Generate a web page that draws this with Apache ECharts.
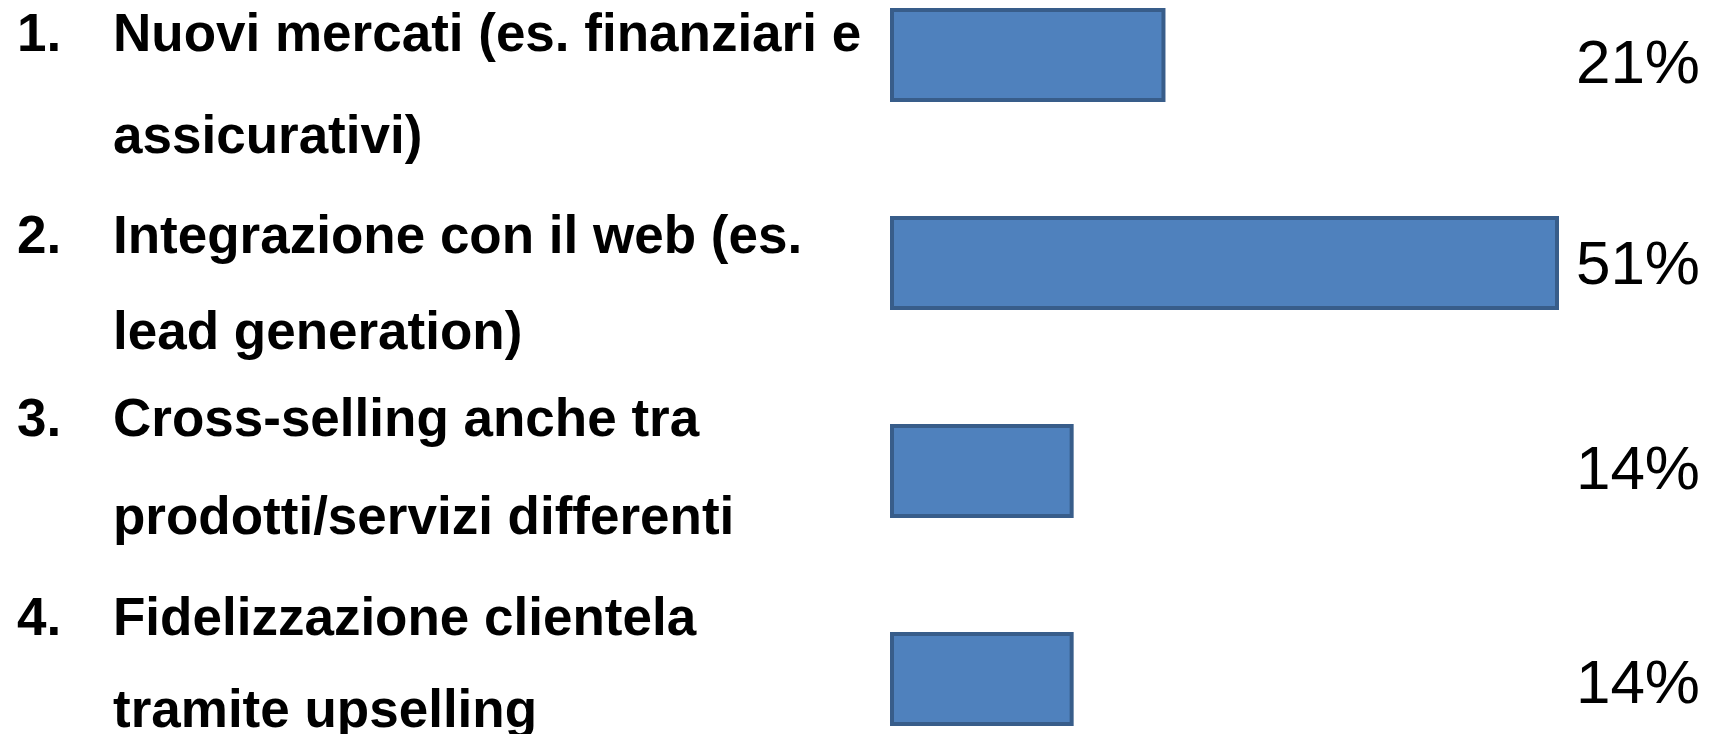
<!DOCTYPE html>
<html>
<head>
<meta charset="utf-8">
<script src="https://cdn.jsdelivr.net/npm/echarts@6/dist/echarts.min.js"></script>
<style>
  html, body { margin: 0; padding: 0; background: #ffffff; }
  #chart { width: 1710px; height: 734px; }
</style>
</head>
<body>
<div id="chart"></div>
<script>
// dati
const numbers = ['1.', '2.', '3.', '4.']
const labelLines = [
  ['Nuovi mercati (es. finanziari e', 'assicurativi)'],
  ['Integrazione con il web (es.', 'lead generation)'],
  ['Cross-selling anche tra', 'prodotti/servizi differenti'],
  ['Fidelizzazione clientela', 'tramite upselling']
]
const values = [21, 51, 14, 14]
const percentLabels = values.map(v => v + '%')

// posizione verticale (baseline) delle righe di testo a sinistra
const lineBaselines = [[47, 149], [249, 345], [432, 530], [631, 723]]
// spostamento verticale delle percentuali a destra
const pctShift = [22, 8, 2, 14]

const myChart = echarts.init(document.getElementById('chart'))

const graphic = []
labelLines.forEach((lines, i) => {
  graphic.push({
    type: 'text',
    left: 17,
    top: lineBaselines[i][0] - 37,
    style: {
      text: numbers[i],
      font: 'bold 53px "Liberation Sans", Arial, sans-serif',
      fill: '#000'
    }
  })
  lines.forEach((line, j) => {
    graphic.push({
      type: 'text',
      left: 113,
      top: lineBaselines[i][j] - 37,
      style: {
        text: line,
        font: 'bold 53px "Liberation Sans", Arial, sans-serif',
        fill: '#000'
      }
    })
  })
})

const pctRich = {}
pctShift.forEach((s, i) => {
  pctRich['p' + i] = {
    fontSize: 62,
    fontFamily: '"Liberation Sans", Arial, sans-serif',
    color: '#000',
    padding: [s, 0, 0, 0]
  }
})

const options = {
  animation: false,
  grid: {
    left: 890,
    right: 151,
    top: -49,
    bottom: -49,
    containLabel: false,
    outerBoundsMode: 'none'
  },
  xAxis: {
    type: 'value',
    min: 0,
    max: 51,
    show: false
  },
  yAxis: [
    {
      type: 'category',
      data: numbers,
      inverse: true,
      show: false
    },
    {
      type: 'category',
      data: percentLabels,
      inverse: true,
      position: 'right',
      axisLine: { show: false },
      axisTick: { show: false },
      splitLine: { show: false },
      axisLabel: {
        align: 'right',
        margin: 141,
        color: '#000',
        fontSize: 62,
        fontFamily: '"Liberation Sans", Arial, sans-serif',
        formatter: (v, i) => '{p' + i + '|' + v + '}',
        rich: pctRich
      }
    }
  ],
  graphic: graphic,
  series: [{
    type: 'bar',
    data: values,
    barWidth: 94,
    itemStyle: {
      color: '#4F81BD',
      borderColor: '#385D8A',
      borderWidth: 4
    }
  }]
}
myChart.setOption(options)
</script>
</body>
</html>
